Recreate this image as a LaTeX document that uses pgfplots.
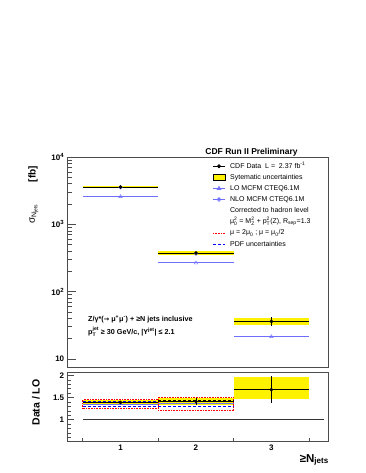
\documentclass[border=0pt]{standalone}
\usepackage{fontspec}
\setmainfont{Liberation Sans}
\newfontfamily\djv{DejaVu Sans}
\usepackage{amsmath}
\usepackage{pgfplots}
\pgfplotsset{compat=1.18}
\definecolor{lblue}{RGB}{110,110,255}
\newcommand{\supsub}[2]{\ensuremath{^{\text{#1}}_{\text{#2}}}}
\begin{document}
\begin{tikzpicture}
\useasboundingbox (0,0) rectangle (365pt,473pt);
% ---------------- top panel ----------------
\begin{axis}[
 at={(67.7pt,105.3pt)}, anchor=south west, scale only axis,
 width=260.3pt, height=210.7pt,
 xmin=0.3, xmax=3.75, ymode=log, ymin=7.4, ymax=10000,
 xtick=\empty, minor xtick={0.5,1.5,2.5,3.5},
 ytick={10,100,1000,10000},
 yticklabels={10,10\textsuperscript{2},10\textsuperscript{3},10\textsuperscript{4}},
 tick pos=left, tick align=inside,
 major tick length=8pt, minor tick length=4.5pt,
 axis line style={black!70, line width=0.7pt},
 every tick/.style={black!70, line width=0.6pt},
 yticklabel style={font=\bfseries\fontsize{8}{9}\selectfont},
 legend image code/.code={\draw[mark repeat=2,mark phase=2,#1] plot coordinates {(0pt,0pt) (6pt,0pt) (12pt,0pt)};},
 legend style={draw=none, fill=none, at={(axis description cs:0.552,0.988)}, anchor=north west,
   font=\fontsize{7}{8}\selectfont, inner sep=1pt, row sep=0pt, column sep=4pt,
   nodes={inner sep=0.8pt, text height=6.8pt, text depth=2.7pt}},
 legend cell align=left,
]
% systematic bands
\addplot[fill=yellow, draw=none, forget plot] coordinates {(0.5,3420) (1.5,3420) (1.5,3750) (0.5,3750)};
\addplot[fill=yellow, draw=none, forget plot] coordinates {(1.5,354) (2.5,354) (2.5,397) (1.5,397)};
\addplot[fill=yellow, draw=none, forget plot] coordinates {(2.5,32.1) (3.5,32.1) (3.5,41.2) (2.5,41.2)};
% NLO
\addplot[only marks, mark=o, mark size=1.8pt, lblue, forget plot,
  error bars/.cd, x dir=both, x explicit, error mark=none, error bar style={lblue, line width=1pt}]
  coordinates {(1,3530) +- (0.5,0) (2,365) +- (0.5,0)};
% LO
\addplot[only marks, mark=triangle, mark size=2pt, lblue, forget plot,
  error bars/.cd, x dir=both, x explicit, error mark=none, error bar style={lblue, line width=1pt}]
  coordinates {(1,2580) +- (0.5,0) (2,266) +- (0.5,0) (3,21.4) +- (0.5,0)};
% data
\addplot[only marks, mark=*, mark size=1.6pt, black, forget plot,
  error bars/.cd, x dir=both, x explicit, y dir=both, y explicit, error mark=none,
  error bar style={black, line width=0.7pt}]
  coordinates {(1,3580) +- (0.5,60) (2,375) +- (0.5,8) (3,36) +- (0.5,5.5)};
% legend
\addlegendimage{black, mark=*, mark size=1.6pt, line width=0.7pt}
\addlegendentry{CDF Data\ \ L =\ \ 2.37 fb\textsuperscript{-1}}
\addlegendimage{legend image code/.code={\draw[fill=yellow, draw=black, line width=0.8pt] (0pt,-3pt) rectangle (12pt,3pt);}}
\addlegendentry{Sytematic uncertainties}
\addlegendimage{lblue, mark=triangle, mark size=2pt, line width=0.8pt}
\addlegendentry{LO MCFM CTEQ6.1M}
\addlegendimage{lblue, mark=o, mark size=1.8pt, line width=0.8pt}
\addlegendentry{NLO MCFM CTEQ6.1M}
\addlegendimage{empty legend}
\addlegendentry{Corrected to hadron level}
\addlegendimage{empty legend}
\addlegendentry{μ\supsub{2}{0} = M\supsub{2}{Z} + p\supsub{2}{T}(Z), R\textsubscript{sep}=1.3}
\addlegendimage{red, densely dotted, line width=0.6pt}
\addlegendentry{μ = 2μ\textsubscript{0} ; μ = μ\textsubscript{0}/2}
\addlegendimage{blue, densely dashed, line width=0.8pt}
\addlegendentry{PDF uncertainties}
\end{axis}
% ---------------- bottom panel ----------------
\begin{axis}[
 at={(67.7pt,31.3pt)}, anchor=south west, scale only axis,
 width=260.3pt, height=69.7pt,
 xmin=0.3, xmax=3.75, ymin=0.5, ymax=2.08,
 xtick={1,2,3}, xticklabels={1,2,3}, minor xtick={0.5,1.5,2.5,3.5},
 ytick={1,1.5,2}, yticklabels={1,1.5,2},
 minor ytick={0.6,0.7,0.8,0.9,1.1,1.2,1.3,1.4,1.6,1.7,1.8,1.9},
 tick pos=left, tick align=inside,
 major tick length=6pt, minor tick length=3.5pt,
 major x tick style={draw=none},
 axis line style={black!70, line width=0.7pt},
 every tick/.style={black!70, line width=0.6pt},
 yticklabel style={font=\bfseries\fontsize{8}{9}\selectfont},
 xticklabel style={font=\bfseries\fontsize{8}{9}\selectfont},
]
\addplot[black!80, line width=0.6pt, forget plot] coordinates {(0.5,1) (3.7,1)};
\addplot[fill=yellow, draw=none, forget plot] coordinates {(0.5,1.335) (1.5,1.335) (1.5,1.455) (0.5,1.455)};
\addplot[fill=yellow, draw=none, forget plot] coordinates {(1.5,1.33) (2.5,1.33) (2.5,1.49) (1.5,1.49)};
\addplot[fill=yellow, draw=none, forget plot] coordinates {(2.5,1.47) (3.5,1.47) (3.5,1.97) (2.5,1.97)};
% scale variation
\addplot[red, densely dotted, line width=0.6pt, forget plot] coordinates {(0.5,1.255) (1.5,1.255) (1.5,1.455) (0.5,1.455) (0.5,1.255)};
\addplot[red, densely dotted, line width=0.6pt, forget plot] coordinates {(1.5,1.205) (2.5,1.205) (2.5,1.515) (1.5,1.515) (1.5,1.205)};
% PDF
\addplot[blue, densely dashed, line width=0.8pt, forget plot] coordinates {(0.5,1.31) (1.5,1.31)};
\addplot[blue, densely dashed, line width=0.8pt, forget plot] coordinates {(0.5,1.42) (1.5,1.42)};
\addplot[blue, densely dashed, line width=0.8pt, forget plot] coordinates {(1.5,1.30) (2.5,1.30)};
\addplot[black, densely dashed, line width=0.8pt, forget plot] coordinates {(1.5,1.425) (2.5,1.425)};
% NLO/LO
\addplot[lblue, line width=1pt, forget plot] coordinates {(0.5,1.35) (1.5,1.35)};
\addplot[lblue, line width=1pt, forget plot] coordinates {(1.5,1.37) (2.5,1.37)};
% data / LO
\addplot[only marks, mark=*, mark size=1.6pt, black, forget plot,
  error bars/.cd, x dir=both, x explicit, y dir=both, y explicit, error mark=none,
  error bar style={black, line width=0.7pt}]
  coordinates {(1,1.39) +- (0.5,0.03) (2,1.41) +- (0.5,0.08) (3,1.68) +- (0.5,0.31)};
\end{axis}
% ---------------- labels ----------------
\node[font=\bfseries\fontsize{8.5}{10}\selectfont] at (251.5pt,321pt) {CDF Run II Preliminary};
\node[rotate=90, font=\bfseries\fontsize{10}{11}\selectfont] at (33pt,299pt) {[fb]};
\node[rotate=90, font=\fontsize{10}{11}\selectfont] at (34pt,259pt) {σ\textsubscript{N\textsubscript{jets}}};
\node[rotate=90, font=\bfseries\fontsize{10.5}{12}\selectfont] at (36pt,70.5pt) {Data / LO};
\node[anchor=north east, inner sep=0pt, font=\bfseries\fontsize{11.5}{13}\selectfont] at (329pt,19pt) {≥N\textsubscript{jets}};
\node[anchor=west, inner sep=0pt, font=\bfseries\fontsize{7.2}{8}\selectfont] at (88pt,154pt) {Z/γ*({\djv\fontsize{6.5}{8}\selectfont →} μ\textsuperscript{+}μ\textsuperscript{-}) + ≥N jets inclusive};
\node[anchor=west, inner sep=0pt, font=\bfseries\fontsize{7.2}{8}\selectfont] at (88pt,141pt) {p\supsub{jet}{T} ≥ 30 GeV/c, |Y\textsuperscript{jet}| ≤ 2.1};
\end{tikzpicture}
\end{document}
